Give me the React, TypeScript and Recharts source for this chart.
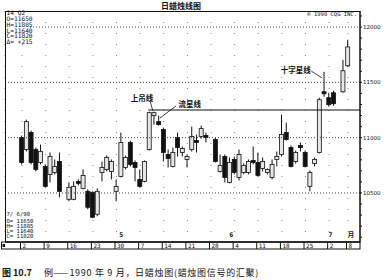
import { ComposedChart, Bar, XAxis, YAxis, CartesianGrid, ReferenceLine, ReferenceDot } from "recharts"

// trading-day slot (weekdays from Apr 2, holidays left empty)
const slots = [0, 1, 2, 3, 4, 5, 6, 7, 8, 10, 11, 12, 13, 14, 15, 16, 17, 18, 19, 20, 21, 22, 23, 24, 25, 26, 27, 28, 29, 30, 31, 32, 33, 34, 35, 36, 37, 38, 39, 41, 42, 43, 44, 45, 46, 47, 48, 49, 50, 51, 52, 53, 54, 55, 56, 57, 58, 59, 60, 61, 62, 63, 64, 65, 66, 68, 69]
const opens = [11001, 10893, 11046, 10893, 10776, 10740, 10668, 10686, 10785, 10443, 10443, 10605, 10542, 10515, 10506, 10308, 10686, 10713, 10695, 10515, 10650, 10731, 10956, 10776, 10623, 10605, 10893, 11199, 11145, 11073, 10848, 10740, 11001, 10866, 10803, 10893, 10974, 11010, 11019, 10983, 10695, 10830, 10596, 10803, 10641, 10686, 10686, 10794, 10776, 10722, 10686, 10641, 10803, 10848, 11046, 10911, 10785, 10929, 10866, 10560, 10767, 10866, 11415, 11361, 11406, 11415, 11650]
const highs = [11019, 11163, 11064, 10911, 10938, 10758, 10866, 10803, 10866, 10596, 10605, 10623, 10713, 10533, 10515, 10542, 10785, 10839, 10803, 10623, 11046, 10839, 10974, 10794, 10713, 10794, 11235, 11235, 11199, 11091, 10893, 10911, 11046, 10920, 10848, 11100, 11028, 11109, 11046, 11001, 10848, 10848, 10821, 10830, 10893, 10767, 10803, 10920, 10866, 10821, 10722, 10803, 10875, 11208, 11136, 10929, 10884, 10956, 10884, 10704, 10821, 11361, 11595, 11406, 11424, 11703, 11885]
const lows = [10758, 10875, 10758, 10695, 10758, 10551, 10596, 10668, 10461, 10425, 10434, 10569, 10533, 10353, 10272, 10290, 10605, 10695, 10623, 10425, 10641, 10713, 10740, 10605, 10551, 10596, 10884, 11118, 11109, 10785, 10731, 10731, 10830, 10830, 10731, 10875, 10866, 10992, 10956, 10776, 10686, 10596, 10587, 10668, 10614, 10668, 10668, 10758, 10650, 10695, 10668, 10623, 10740, 10830, 10974, 10731, 10767, 10875, 10731, 10515, 10740, 10857, 11370, 11280, 11289, 11406, 11640]
const closes = [10776, 11145, 10776, 10713, 10875, 10560, 10830, 10740, 10515, 10551, 10560, 10587, 10659, 10371, 10281, 10515, 10731, 10821, 10785, 10560, 10956, 10821, 10758, 10731, 10560, 10785, 11226, 11226, 11118, 10866, 10812, 10866, 10911, 10902, 10830, 11010, 10956, 11082, 11001, 10785, 10749, 10641, 10776, 10686, 10848, 10749, 10785, 10776, 10659, 10785, 10713, 10758, 10830, 11028, 10983, 10740, 10866, 10911, 10740, 10686, 10803, 11343, 11397, 11298, 11307, 11605, 11820]

const weekTicks = [0, 5, 10, 15, 20, 25, 30, 35, 40, 45, 50, 55, 60, 65, 69]
const weekLabels = ["2", "9", "16", "23", "30", "7", "14", "21", "28", "4", "11", "18", "25", "2", "8"]
const monthSlots = [21, 44.3, 65.3, 69.6]
const monthLabels = ["5", "6", "7", "月"]
const priceTicks = [10100, 10200, 10300, 10400, 10500, 10600, 10700, 10800, 10900, 11000, 11100, 11200, 11300, 11400, 11500, 11600, 11700, 11800, 11900, 12000, 12100]
const gridLevels = [10500, 11000, 11500]
const resistance = 11250

const candles = slots.map((i, k) => ({ i, o: opens[k], h: highs[k], l: lows[k], c: closes[k] }))

const INK = "#111"
const MONO = "DejaVu Sans Mono, monospace"
const CJK = "Noto Sans CJK SC, sans-serif"

const Candle = (props: any) => {
  const { x, y, width, height, payload } = props
  if (!payload || height == null) return null
  const top = Math.min(y, y + height)
  const span = Math.abs(height)
  const { o, h, l, c } = payload
  const k = span / (h - l)
  const cx = x + width / 2
  const bodyTop = top + (h - Math.max(o, c)) * k
  const bodyH = Math.max(Math.abs(o - c) * k, 1.5)
  const up = c >= o
  return (
    <g>
      <line x1={cx} x2={cx} y1={top} y2={top + span} stroke={INK} strokeWidth={1} />
      <rect x={cx - 2} y={bodyTop} width={4} height={bodyH} fill={up ? "#e6e6e6" : INK} stroke={INK} strokeWidth={0.8} />
    </g>
  )
}

const WeekTick = ({ x, y, payload }: any) => {
  const idx = weekTicks.indexOf(payload.value)
  return (
    <g>
      <line x1={x - 1.5} x2={x - 1.5} y1={y} y2={y + 7} stroke={INK} strokeWidth={1} />
      <text x={x + 0.5} y={y + 6} fontSize={6} fontFamily={MONO} fill={INK}>
        {weekLabels[idx]}
      </text>
    </g>
  )
}

const noteStyle = { fontSize: 7.5, fontWeight: 700, fontFamily: CJK, fill: INK }

export default function App() {
  return (
    <div style={{ position: "absolute", left: 0, top: 0, width: 385, height: 280, background: "#fff" }}>
      <ComposedChart width={385} height={280} data={candles} margin={{ top: 11, right: 0, left: 5, bottom: 31 }}>
        <CartesianGrid vertical horizontal={false} stroke="#888" strokeDasharray="1 10" />
        <XAxis
          type="number"
          dataKey="i"
          domain={[-3.598, 71.53]}
          allowDataOverflow
          ticks={weekTicks}
          interval={0}
          height={7}
          tickSize={0}
          tickMargin={0}
          tickLine={false}
          axisLine={{ stroke: INK }}
          tick={<WeekTick />}
        />
        <YAxis
          orientation="right"
          type="number"
          domain={[10057, 12145]}
          allowDataOverflow
          ticks={priceTicks}
          interval={0}
          width={25}
          tickSize={2}
          tickMargin={1}
          axisLine={{ stroke: INK }}
          tickLine={{ stroke: INK }}
          tick={{ fontSize: 5.5, fill: INK, fontFamily: "DejaVu Sans" }}
          tickFormatter={(v: number) => (v % 500 === 0 ? String(v) : "")}
        />
        {gridLevels.map((v) => (
          <ReferenceLine key={v} y={v} stroke="#444" strokeDasharray="1 2" />
        ))}
        <ReferenceLine segment={[{ x: 1.7, y: 12000 }, { x: 71.53, y: 12000 }]} stroke="#444" strokeDasharray="1 2" />
        <ReferenceLine segment={[{ x: 26.7, y: resistance }, { x: 71.53, y: resistance }]} stroke={INK} strokeWidth={1.2} />
        <Bar dataKey={(d: any) => [d.l, d.h]} barSize={4} shape={<Candle />} isAnimationActive={false} />

        <ReferenceLine segment={[{ x: 27.1, y: 11332 }, { x: 27.7, y: 11241 }]} stroke={INK} strokeWidth={0.8} ifOverflow="visible" />
        <ReferenceLine segment={[{ x: 32.6, y: 11287 }, { x: 29.2, y: 11178 }]} stroke={INK} strokeWidth={0.8} ifOverflow="visible" />
        <ReferenceLine segment={[{ x: 61.2, y: 11603 }, { x: 63.5, y: 11540 }]} stroke={INK} strokeWidth={0.8} ifOverflow="visible" />
        <ReferenceDot x={27.9} y={11360} r={0.5} fill="none" stroke="none" ifOverflow="visible"
          label={{ value: "上吊线", position: "left", offset: 0, ...noteStyle }} />
        <ReferenceDot x={38.0} y={11300} r={0.5} fill="none" stroke="none" ifOverflow="visible"
          label={{ value: "流星线", position: "left", offset: 0, ...noteStyle }} />
        <ReferenceDot x={61.2} y={11612} r={0.5} fill="none" stroke="none" ifOverflow="visible"
          label={{ value: "十字星线", position: "left", offset: 0, ...noteStyle }} />
        {monthSlots.map((s, k) => (
          <ReferenceDot key={k} x={s} y={10120} r={0.5} fill="none" stroke="none" ifOverflow="visible"
            label={{ value: monthLabels[k], position: "center", fontSize: 6.5, fontFamily: k === 3 ? CJK : MONO, fill: INK, fontWeight: 700 }} />
        ))}
      </ComposedChart>

      <svg width={385} height={280} style={{ position: "absolute", left: 0, top: 0, pointerEvents: "none" }}>
        <text x={181} y={9} textAnchor="middle" fontSize={8} fontWeight={700} fontFamily={CJK} fill={INK}>日蜡烛线图</text>
        <text x={357} y={16} textAnchor="end" fontSize={5.5} fontFamily={MONO} fill={INK}>© 1990 CQG INC.</text>
        <rect x={5.5} y={11.5} width={354.5} height={230.5} fill="none" stroke={INK} strokeWidth={1} />
        <rect x={1.5} y={242} width={358.5} height={7} fill="none" stroke={INK} strokeWidth={1} />
        <rect x={2.5} y={244} width={2.5} height={3} fill={INK} />
        <g fontSize={6.2} fontFamily={MONO} fill={INK}>
          <text x={6.5} y={15}>14 Q2</text>
          <text x={6.5} y={21}>O=11650</text>
          <text x={6.5} y={27}>H=11885</text>
          <text x={6.5} y={32.5}>L=11640</text>
          <text x={6.5} y={38}>C=11820</text>
          <text x={6.5} y={44}>Δ= +215</text>
        </g>
        <g fontSize={5.6} fontFamily={MONO} fill={INK}>
          <text x={6.5} y={216}>7/ 6/90</text>
          <text x={6.5} y={222.5}>O= 11650</text>
          <text x={6.5} y={228}>H= 11885</text>
          <text x={6.5} y={233}>L= 11640</text>
          <text x={6.5} y={238}>C= 11820</text>
        </g>
        <text x={2} y={276} fontFamily={CJK} fill={INK}>
          <tspan fontSize={9} fontWeight={700}>图 10.7</tspan>
          <tspan fontSize={9} dx={12} letterSpacing={0.7}>例——1990 年 9 月，日蜡烛图(蜡烛图信号的汇聚)</tspan>
        </text>
      </svg>
    </div>
  )
}
